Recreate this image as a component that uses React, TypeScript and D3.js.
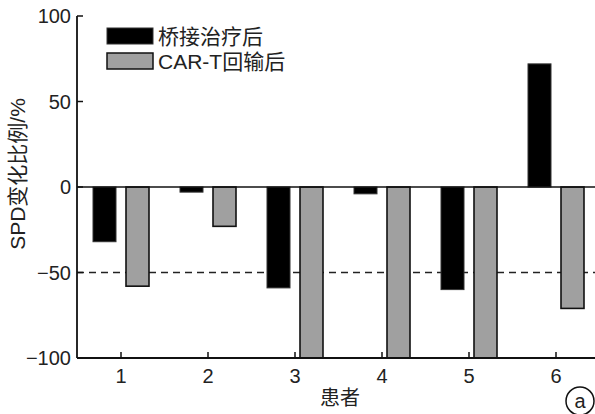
import React from "react";
import * as d3 from "d3";

// values
const patients = [1, 2, 3, 4, 5, 6];
const bridgeValues = [-32, -3, -59, -4, -60, 72]; // 桥接治疗后
const carTValues = [-58, -23, -100, -100, -100, -71]; // CAR-T回输后
const yTicks = [-100, -50, 0, 50, 100];

const W = 595;
const H = 414;
const FONT = "'Liberation Sans', Arial, 'Noto Sans CJK SC', sans-serif";

export default function App() {
  const y = d3.scaleLinear().domain([-100, 100]).range([358, 16]);
  const x = d3.scaleLinear().domain([1, 6]).range([121, 556]);
  const axisX = 77;
  const barW = 23;
  const offset = 16.5;

  const bar = (v: number) => ({
    y: Math.min(y(v), y(0)),
    h: Math.abs(y(v) - y(0)),
  });

  return (
    <svg
      width={W}
      height={H}
      style={{ position: "absolute", left: 0, top: 0, background: "#fff" }}
      fontFamily={FONT}
    >
      {/* reference line at -50 */}
      <line
        x1={axisX}
        x2={W}
        y1={y(-50)}
        y2={y(-50)}
        stroke="#222"
        strokeWidth={1.3}
        strokeDasharray="7,5"
      />

      {/* bars */}
      {patients.map((p, i) => {
        const b = bar(bridgeValues[i]);
        const c = bar(carTValues[i]);
        return (
          <g key={p}>
            <rect
              x={x(p) - offset - barW / 2}
              y={b.y}
              width={barW}
              height={b.h}
              fill="#000"
              stroke="#333"
              strokeWidth={1}
            />
            <rect
              x={x(p) + offset - barW / 2}
              y={c.y}
              width={barW}
              height={c.h}
              fill="#a0a0a0"
              stroke="#111"
              strokeWidth={1.6}
            />
          </g>
        );
      })}

      {/* zero line */}
      <line x1={axisX} x2={W} y1={y(0)} y2={y(0)} stroke="#111" strokeWidth={1.5} />

      {/* axes */}
      <line x1={axisX} x2={axisX} y1={y(100)} y2={y(-100)} stroke="#111" strokeWidth={1.8} />
      <line x1={axisX} x2={W} y1={y(-100)} y2={y(-100)} stroke="#111" strokeWidth={1.8} />

      {yTicks.map((t) => (
        <g key={t}>
          <line x1={axisX} x2={axisX + 6} y1={y(t)} y2={y(t)} stroke="#111" strokeWidth={1.5} />
          <text
            x={axisX - 6}
            y={y(t)}
            dy="0.36em"
            textAnchor="end"
            fontSize={20}
            fill="#222"
          >
            {t < 0 ? `\u2212${Math.abs(t)}` : t}
          </text>
        </g>
      ))}

      {patients.map((p) => (
        <g key={p}>
          <line x1={x(p)} x2={x(p)} y1={y(-100)} y2={y(-100) - 6} stroke="#111" strokeWidth={1.5} />
          <text x={x(p)} y={383} textAnchor="middle" fontSize={20} fill="#222">
            {p}
          </text>
        </g>
      ))}

      {/* axis titles */}
      <text x={340} y={405} textAnchor="middle" fontSize={20} fill="#222">
        患者
      </text>
      <text
        transform={`translate(25,174) rotate(-90)`}
        textAnchor="middle"
        fontSize={21}
        fill="#222"
      >
        SPD变化比例/%
      </text>

      {/* legend */}
      <rect x={107} y={28} width={46} height={16} fill="#000" stroke="#333" />
      <text x={158} y={44} fontSize={21} fill="#222">
        桥接治疗后
      </text>
      <rect x={107} y={53} width={46} height={16} fill="#a0a0a0" stroke="#111" strokeWidth={1.5} />
      <text x={158} y={69} fontSize={21} fill="#222">
        CAR-T回输后
      </text>

      {/* panel marker */}
      <circle cx={580} cy={401} r={14} fill="none" stroke="#111" strokeWidth={1.5} />
      <text x={580} y={401} dy="0.35em" textAnchor="middle" fontSize={20} fill="#222">
        a
      </text>
    </svg>
  );
}
